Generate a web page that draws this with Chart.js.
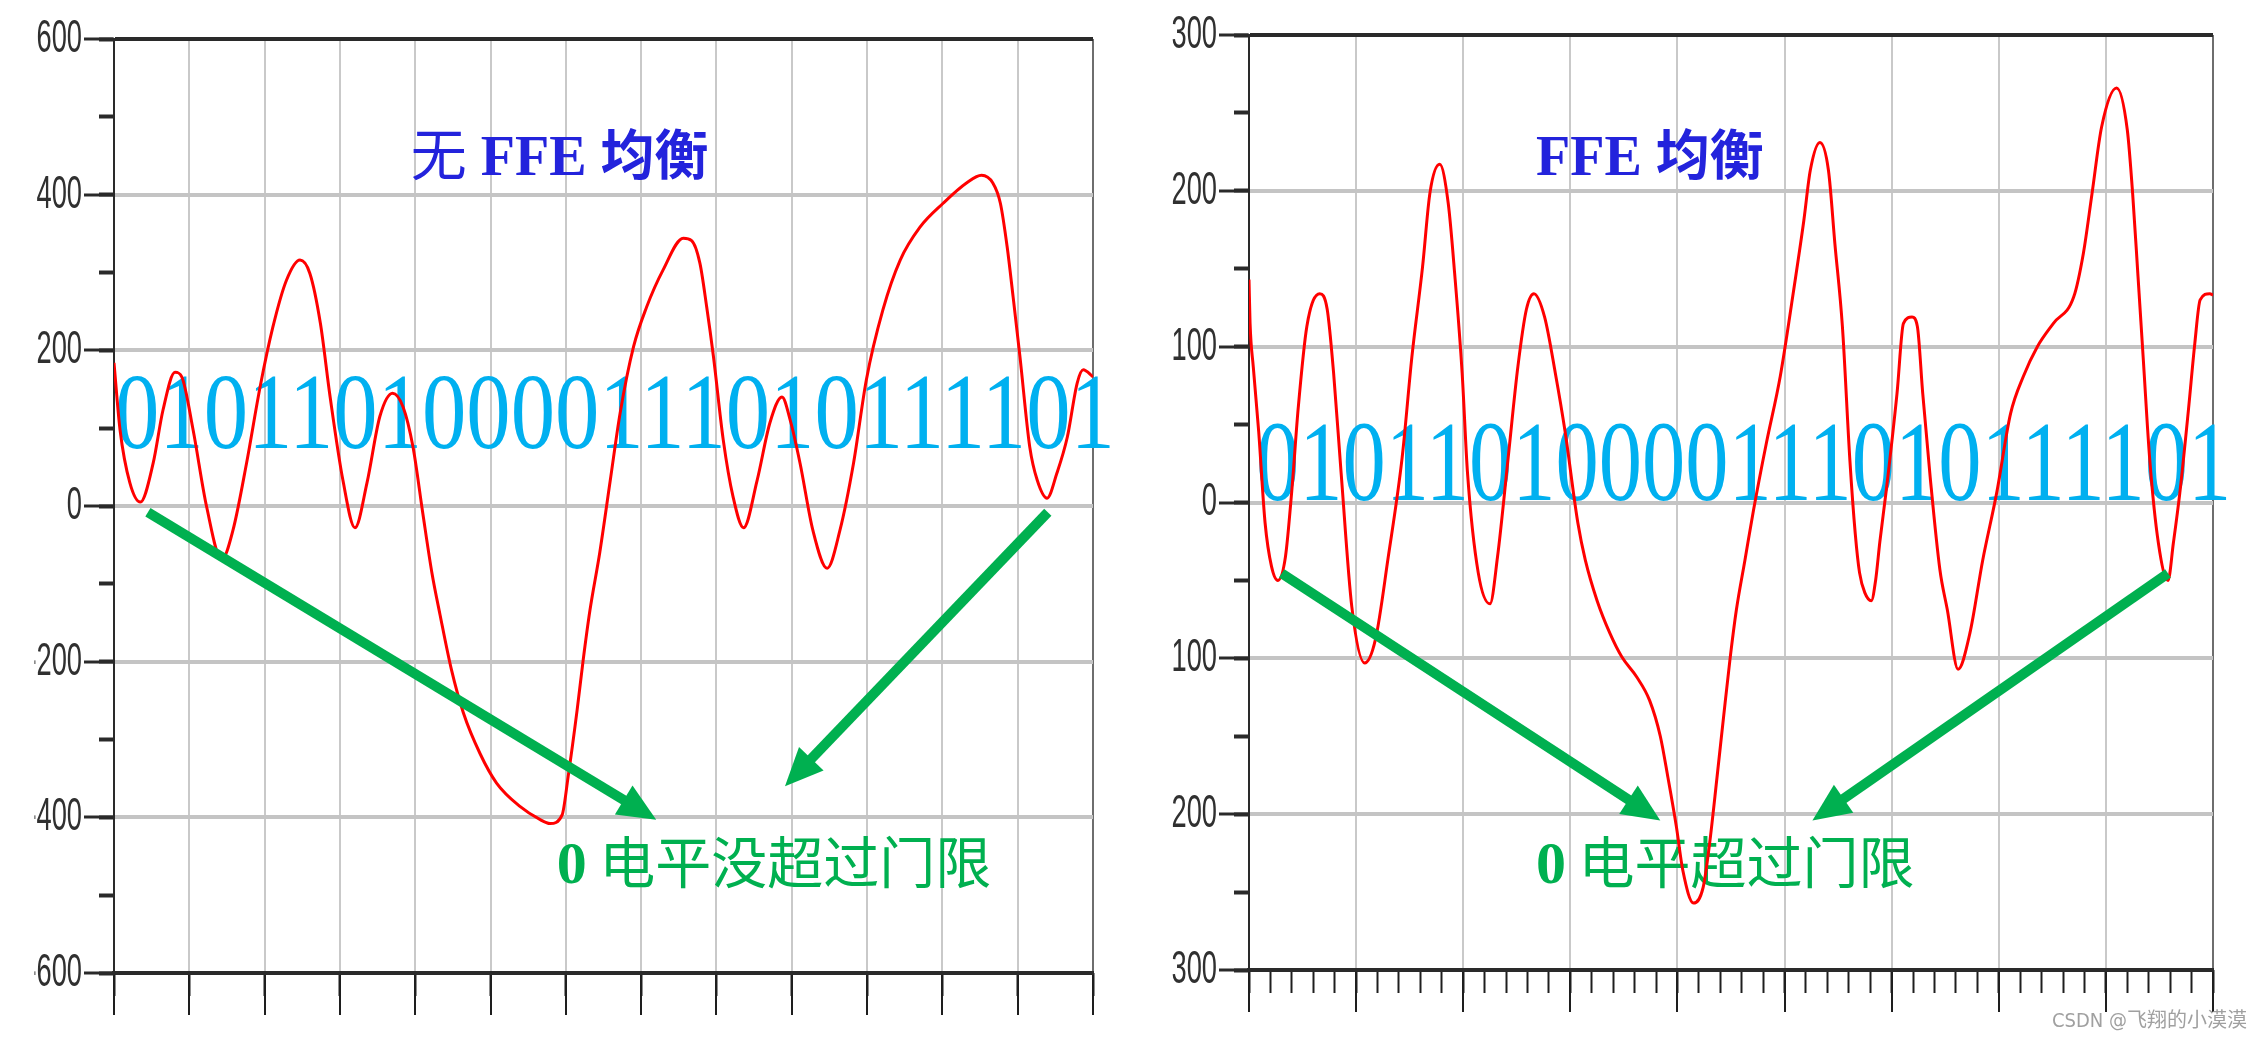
<!DOCTYPE html>
<html><head><meta charset="utf-8">
<script src="https://cdn.jsdelivr.net/npm/chart.js@4.4.1/dist/chart.umd.min.js"></script>
<style>
html,body{margin:0;padding:0;background:#fff;width:2261px;height:1038px;overflow:hidden;position:relative}
canvas{position:absolute;top:0}
#c1{left:0}
#c2{left:1140px}
#credit{position:absolute;left:2052px;top:1004px;font:20px "Liberation Sans Narrow","DejaVu Sans Condensed","Noto Sans CJK SC",sans-serif;color:#a0a0a0;white-space:nowrap}
</style></head><body>
<canvas id="c1" width="1140" height="1038"></canvas>
<canvas id="c2" width="1121" height="1038"></canvas>
<div id="credit">CSDN @飞翔的小漠漠</div>
<script>
// ---------- data ----------
const bitString = "01011010000111010111101";

// left panel: no FFE equalization
const leftX = [0,0.08,0.21,0.35,0.52,0.65,0.81,0.9,1.05,1.23,1.43,1.58,1.76,1.94,2.11,2.29,2.47,2.6,2.74,2.87,3.04,3.2,3.36,3.53,3.7,3.84,3.97,4.1,4.22,4.33,4.48,4.64,4.86,5.08,5.39,5.66,5.79,5.95,6.03,6.15,6.23,6.32,6.45,6.59,6.72,6.9,7.07,7.29,7.56,7.67,7.78,7.87,7.96,8.09,8.22,8.36,8.54,8.71,8.87,8.98,9.11,9.28,9.47,9.64,9.82,9.99,10.21,10.44,10.7,11.01,11.32,11.52,11.67,11.77,11.86,11.94,12.03,12.16,12.26,12.39,12.52,12.66,12.79,12.87,13.0];
const leftY = [184,98,30,5,55,123,172,166,98,-1,-69,-31,55,153,230,290,316,299,235,140,33,-28,30,115,145,127,76,-9,-85,-140,-210,-266,-318,-356,-386,-403,-408,-397,-348,-262,-198,-134,-60,33,119,205,255,303,344,341,312,256,192,85,12,-28,33,107,140,110,55,-31,-80,-31,55,162,252,316,358,389,415,425,415,389,333,268,192,76,33,10,42,89,158,175,166];

// right panel: with FFE equalization
const rightX = [0,0.01,0.04,0.09,0.15,0.21,0.27,0.34,0.40,0.46,0.54,0.66,0.73,0.79,0.86,0.96,1.08,1.18,1.30,1.43,1.52,1.62,1.69,1.78,1.86,1.92,1.99,2.04,2.14,2.25,2.32,2.42,2.51,2.59,2.66,2.76,2.86,2.95,3.07,3.14,3.25,3.37,3.48,3.62,3.74,3.84,3.91,3.99,4.05,4.15,4.24,4.30,4.37,4.43,4.49,4.55,4.63,4.71,4.83,4.96,5.08,5.18,5.24,5.33,5.41,5.47,5.54,5.61,5.66,5.70,5.75,5.81,5.85,5.89,5.95,6.05,6.11,6.19,6.24,6.29,6.36,6.45,6.52,6.62,6.73,6.85,6.98,7.11,7.23,7.36,7.51,7.70,7.79,7.87,7.96,8.10,8.20,8.25,8.30,8.35,8.41,8.49,8.58,8.63,8.69,8.77,8.83,8.88,8.97,9.0];
const rightY = [143,115,87,46,-13,-41,-50,-35,8,61,113,134,124,83,19,-67,-103,-88,-35,29,93,151,199,217,192,147,83,19,-45,-65,-35,29,87,124,134,119,83,46,-13,-37,-63,-84,-99,-112,-127,-150,-176,-208,-236,-257,-247,-219,-176,-138,-101,-69,-37,-5,38,81,134,181,213,231,213,166,113,27,-20,-45,-58,-63,-50,-25,8,70,115,119,113,70,16,-43,-69,-107,-84,-37,6,57,81,100,115,132,160,198,241,266,239,198,145,91,27,-26,-50,-26,6,59,102,130,134,133];

// axis ticks
const leftYTicks = [-600,-400,-200,0,200,400,600];
const leftYMinor = [-600,-500,-400,-300,-200,-100,0,100,200,300,400,500,600];
const leftXTicks = [0,1,2,3,4,5,6,7,8,9,10,11,12,13];
const rightYTicks = [-300,-200,-100,0,100,200,300];
const rightYMinor = [-300,-250,-200,-150,-100,-50,0,50,100,150,200,250,300];
const rightXTicks = [0,1,2,3,4,5,6,7,8,9];
const rightXMinor = Array.from({length: 46}, (_, i) => Math.round(i * 2) / 10);

// text
const leftTitle = ["无", " FFE ", "均衡"];
const rightTitle = ["FFE ", "均衡"];
const leftNote = ["0", " 电平没超过门限"];
const rightNote = ["0", " 电平超过门限"];
const credit = "CSDN @飞翔的小漠漠";

// ---------- helpers ----------
const SANS = '"Liberation Sans",Arial,sans-serif';
const SERIF = '"Liberation Serif","DejaVu Serif",serif';
const CJK = '"Noto Sans CJK SC","Noto Sans CJK JP",sans-serif';

function pts(xs, ys) { return xs.map((x, i) => ({x, y: ys[i]})); }

// condensed y-axis tick labels (the original uses a narrow face)
const condense = {
  id: 'condense',
  beforeDraw(chart) {
    const s = chart.scales.y;
    if (s._condensed) return;
    const orig = s.drawLabels.bind(s);
    s.drawLabels = function (area) {
      const ctx = this.ctx;
      const ax = this.right - this.options.grid.tickLength - this.options.ticks.padding;
      ctx.save();
      ctx.translate(ax, 0); ctx.scale(0.58, 1); ctx.translate(-ax, 0);
      orig(area);
      ctx.restore();
    };
    s._condensed = true;
  }
};

const overlay = {
  id: 'overlay',
  beforeDatasetsDraw(chart, args, o) {
    const {ctx} = chart; const sx = chart.scales.x, sy = chart.scales.y;
    ctx.save();
    ctx.font = o.bits.font; ctx.fillStyle = '#00b0f0'; ctx.textAlign = 'left'; ctx.textBaseline = 'alphabetic';
    const w = ctx.measureText(bitString).width;
    const p0 = sx.getPixelForValue(o.bits.x0), p1 = sx.getPixelForValue(o.bits.x1), py = sy.getPixelForValue(o.bits.y);
    ctx.translate(p0, py); ctx.scale((p1 - p0) / w, 1);
    ctx.fillText(bitString, 0, 0);
    ctx.restore();
    for (const t of o.labels) {
      ctx.save();
      ctx.fillStyle = t.color; ctx.textAlign = 'left'; ctx.textBaseline = 'alphabetic';
      let cx = sx.getPixelForValue(t.x); const cy = sy.getPixelForValue(t.y);
      t.parts.forEach((p, i) => {
        ctx.font = t.fonts[i];
        ctx.fillText(p, cx, cy);
        cx += ctx.measureText(p).width;
      });
      ctx.restore();
    }
  },
  afterDatasetsDraw(chart, args, o) {
    const {ctx} = chart; const sx = chart.scales.x, sy = chart.scales.y;
    ctx.save();
    ctx.strokeStyle = '#00b050'; ctx.fillStyle = '#00b050'; ctx.lineWidth = 10; ctx.lineCap = 'butt';
    for (const a of o.arrows) {
      const x0 = sx.getPixelForValue(a[0]), y0 = sy.getPixelForValue(a[1]);
      const x1 = sx.getPixelForValue(a[2]), y1 = sy.getPixelForValue(a[3]);
      const ang = Math.atan2(y1 - y0, x1 - x0), L = 38, H = 17;
      const bx = x1 - L * Math.cos(ang), by = y1 - L * Math.sin(ang);
      ctx.beginPath(); ctx.moveTo(x0, y0); ctx.lineTo(bx + 2 * Math.cos(ang), by + 2 * Math.sin(ang)); ctx.stroke();
      ctx.beginPath(); ctx.moveTo(x1, y1);
      ctx.lineTo(bx + H * Math.sin(ang), by - H * Math.cos(ang));
      ctx.lineTo(bx - H * Math.sin(ang), by + H * Math.cos(ang));
      ctx.closePath(); ctx.fill();
    }
    ctx.restore();
  }
};

function makeChart(id, cfg) {
  const gridCol = '#c9c9c9';
  return new Chart(document.getElementById(id), {
    type: 'line',
    data: {datasets: [{data: pts(cfg.xs, cfg.ys), borderColor: '#ff0000', borderWidth: 3, pointRadius: 0,
      cubicInterpolationMode: 'monotone', fill: false}]},
    plugins: [overlay, condense],
    options: {
      responsive: false, animation: false, devicePixelRatio: 1,
      layout: {padding: {top: cfg.padTop, right: cfg.padRight, left: 0, bottom: 0}},
      plugins: {legend: {display: false}, tooltip: {enabled: false}, overlay: cfg.overlay},
      scales: {
        x: {
          type: 'linear', min: cfg.xMin, max: cfg.xMax,
          afterBuildTicks: s => { s.ticks = cfg.xTicks.map(v => ({value: v})); },
          ticks: {display: false},
          grid: {color: c => c.tick && c.tick.value === cfg.xMax ? '#6e6e6e' : gridCol, lineWidth: 2,
                 drawTicks: true, tickLength: 42, tickColor: '#1e1e1e', tickWidth: 2},
          border: {display: true, color: '#2a2a2a', width: 4},
          afterFit: s => { s.height = cfg.xAxisH; }
        },
        xm: {
          axis: 'x', type: 'linear', min: cfg.xMin, max: cfg.xMax, position: {y: cfg.yMin},
          afterBuildTicks: s => { s.ticks = cfg.xMinor.map(v => ({value: v})); },
          ticks: {display: false},
          grid: {drawOnChartArea: false, drawTicks: true, tickLength: 23, tickColor: '#1e1e1e', tickWidth: 2},
          border: {display: false}
        },
        y: {
          type: 'linear', min: cfg.yMin, max: cfg.yMax,
          afterBuildTicks: s => { s.ticks = cfg.yTicks.map(v => ({value: v})); },
          ticks: {display: true, color: '#303030', padding: 2, font: {family: SANS, size: 47},
                  callback: v => String(v)},
          grid: {color: c => (c.tick && Math.abs(c.tick.value) === cfg.yMax) ? '#2a2a2a' : '#c4c4c4',
                 lineWidth: c => (c.tick && Math.abs(c.tick.value) === cfg.yMax) ? 4 : 4,
                 drawTicks: true, tickLength: 30, tickColor: '#2a2a2a', tickWidth: 3},
          border: {display: true, color: '#2a2a2a', width: 2},
          afterFit: s => { s.width = cfg.yAxisW; }
        },
        ym: {
          axis: 'y', type: 'linear', min: cfg.yMin, max: cfg.yMax, position: {x: cfg.xMin},
          afterBuildTicks: s => { s.ticks = cfg.yMinor.map(v => ({value: v})); },
          ticks: {display: false},
          grid: {drawOnChartArea: false, drawTicks: true, tickLength: 15, tickColor: '#2a2a2a', tickWidth: 4},
          border: {display: false}
        }
      }
    }
  });
}

const TITLE_BLUE = '#2323dc', NOTE_GREEN = '#00b050';

makeChart('c1', {
  xs: leftX, ys: leftY, xMin: 0, xMax: 13, yMin: -600, yMax: 600,
  xTicks: leftXTicks, xMinor: leftXTicks, yTicks: leftYTicks, yMinor: leftYMinor,
  padTop: 39, padRight: 47, xAxisH: 65, yAxisW: 114,
  overlay: {
    bits: {font: '108px ' + SERIF, x0: 0.013, x1: 13.29, y: 74.5},
    labels: [
      {parts: leftTitle, color: TITLE_BLUE, x: 3.94, y: 425,
       fonts: ['400 56px ' + CJK, 'bold 56px ' + SERIF, '700 54px ' + CJK]},
      {parts: leftNote, color: NOTE_GREEN, x: 5.88, y: -484,
       fonts: ['bold 60px ' + SERIF, '400 56px ' + CJK]}
    ],
    arrows: [[0.45, -8, 7.2, -403], [12.4, -8, 8.91, -360]]
  }
});

makeChart('c2', {
  xs: rightX, ys: rightY, xMin: 0, xMax: 9, yMin: -300, yMax: 300,
  xTicks: rightXTicks, xMinor: rightXMinor, yTicks: rightYTicks, yMinor: rightYMinor,
  padTop: 35, padRight: 48, xAxisH: 68, yAxisW: 109,
  overlay: {
    bits: {font: '114px ' + SERIF, x0: 0.065, x1: 9.17, y: 1.6},
    labels: [
      {parts: rightTitle, color: TITLE_BLUE, x: 2.68, y: 210,
       fonts: ['bold 56px ' + SERIF, '700 54px ' + CJK]},
      {parts: rightNote, color: NOTE_GREEN, x: 2.68, y: -244,
       fonts: ['bold 60px ' + SERIF, '400 56px ' + CJK]}
    ],
    arrows: [[0.305, -45.5, 3.84, -204], [8.58, -45.5, 5.26, -204]]
  }
});
document.getElementById('credit').textContent = credit;
</script>
</body></html>
